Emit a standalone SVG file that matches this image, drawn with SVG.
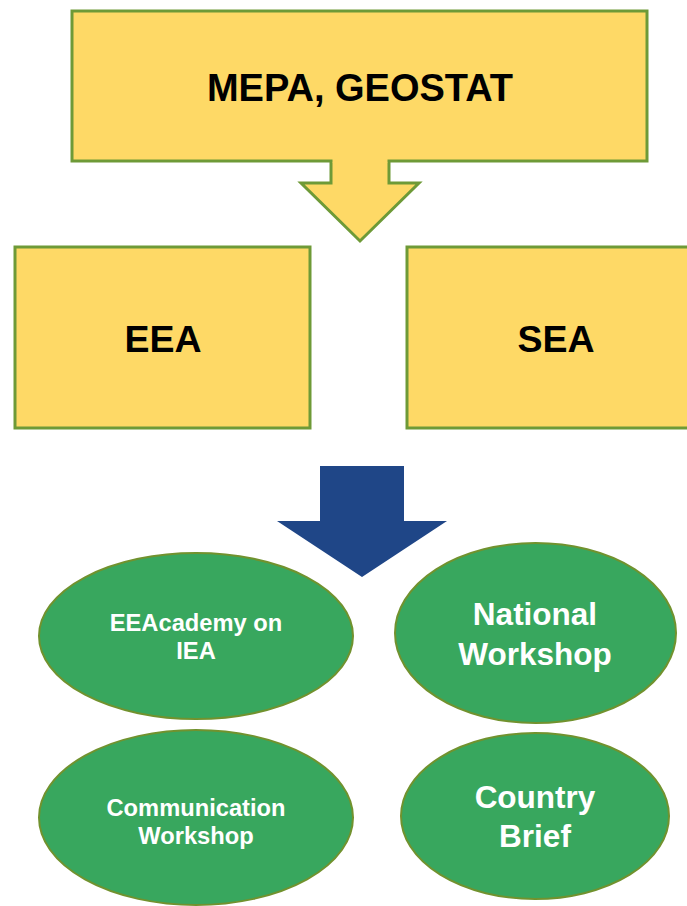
<svg xmlns="http://www.w3.org/2000/svg" width="687" height="906" viewBox="0 0 687 906">
<style>
.box{fill:#FED966;stroke:#6E9A37;stroke-width:3}
.ell{fill:#38A75E;stroke:#71922E;stroke-width:2}
.bt{font-family:"Liberation Sans",Arial,sans-serif;font-weight:bold;fill:#000;text-anchor:middle;font-size:37.5px}
.big{font-size:38px}
.wt{font-family:"Liberation Sans",Arial,sans-serif;font-weight:bold;fill:#fff;text-anchor:middle}
.s{font-size:23.7px}
.l{font-size:31.5px}
</style>
<rect width="687" height="906" fill="#fff"/>
<g id="connectors">
<path class="box" d="M331,150 L331,183 L301,183 L360,241 L419,183 L389,183 L389,150"/>
<path d="M320,466 L404,466 L404,521 L447,521 L362,577 L277,521 L320,521 Z" fill="#1F4687"/>
</g>
<g id="mepa">
<rect class="box" x="72" y="11" width="575" height="150"/>
<rect x="332.5" y="155" width="55" height="8" fill="#FED966"/>
<text class="bt big" x="360" y="101">MEPA, GEOSTAT</text>
</g>
<g id="eea">
<rect class="box" x="15" y="247" width="295" height="181"/>
<text class="bt" x="163" y="352">EEA</text>
</g>
<g id="sea">
<rect class="box" x="407" y="247" width="297" height="181"/>
<text class="bt" x="556" y="352">SEA</text>
</g>
<g id="eeacademy">
<ellipse class="ell" cx="196" cy="636" rx="157" ry="83"/>
<text class="wt s" x="196" y="631">EEAcademy on</text>
<text class="wt s" x="196" y="659">IEA</text>
</g>
<g id="national">
<ellipse class="ell" cx="535.5" cy="633" rx="140.5" ry="90"/>
<text class="wt l" x="535" y="625">National</text>
<text class="wt l" x="535" y="665">Workshop</text>
</g>
<g id="communication">
<ellipse class="ell" cx="196" cy="817.5" rx="157" ry="87.5"/>
<text class="wt s" x="196" y="816">Communication</text>
<text class="wt s" x="196" y="844">Workshop</text>
</g>
<g id="country">
<ellipse class="ell" cx="535" cy="816" rx="134" ry="83"/>
<text class="wt l" x="535" y="808">Country</text>
<text class="wt l" x="535" y="847">Brief</text>
</g>
</svg>
